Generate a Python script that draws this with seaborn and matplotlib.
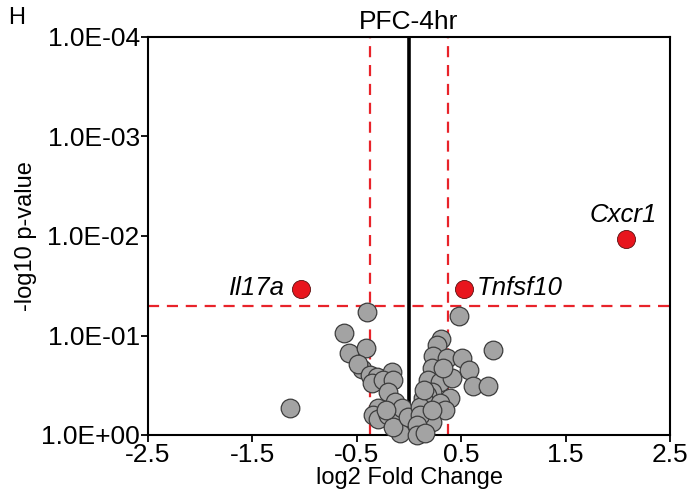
import numpy as np
import pandas as pd
import matplotlib
matplotlib.use("Agg")
import matplotlib.pyplot as plt
import seaborn as sns

# ---- data -------------------------------------------------------------
gray_fc = [-1.140, -0.622, -0.574, -0.399, -0.411, -0.453, -0.488, -0.373,
           -0.309, -0.357, -0.165, -0.245, -0.150, -0.198, -0.133, -0.293,
           -0.341, -0.293, -0.198, -0.117, -0.069, -0.021, -0.085, -0.150,
           -0.006, -0.220,
           0.480, 0.308, 0.267, 0.803, 0.234, 0.362, 0.506, 0.219, 0.570,
           0.186, 0.298, 0.410, 0.617, 0.761, 0.219, 0.171, 0.394, 0.138,
           0.298, 0.106, 0.346, 0.219, 0.106, 0.075, 0.075, 0.219, 0.145,
           0.327, 0.154]
gray_p = [0.539, 0.095, 0.151, 0.0585, 0.134, 0.217, 0.193, 0.249,
          0.260, 0.302, 0.234, 0.280, 0.280, 0.367, 0.463, 0.539,
          0.630, 0.690, 0.630, 0.620, 0.539, 0.793, 0.962, 0.826,
          0.655, 0.561,
          0.0632, 0.108, 0.125, 0.140, 0.161, 0.169, 0.169, 0.214, 0.222,
          0.280, 0.291, 0.269, 0.322, 0.322, 0.367, 0.396, 0.428, 0.428,
          0.480, 0.520, 0.561, 0.735, 0.630, 0.793, 1.0, 0.561, 0.353,
          0.212, 0.955]

sig_genes = ["Il17a", "Tnfsf10", "Cxcr1"]
sig_fc = [-1.037, 0.531, 2.08]
sig_p = [0.0343, 0.0343, 0.0108]

fc_cut = 0.375
p_cut = 0.05
y_ticks = [1e0, 1e-1, 1e-2, 1e-3, 1e-4]
y_ticklabels = ["1.0E+00", "1.0E-01", "1.0E-02", "1.0E-03", "1.0E-04"]
x_ticks = [-2.5, -1.5, -0.5, 0.5, 1.5, 2.5]
x_ticklabels = ["-2.5", "-1.5", "-0.5", "0.5", "1.5", "2.5"]

gray_df = pd.DataFrame({"fc": gray_fc, "p": gray_p})
sig_df = pd.DataFrame({"gene": sig_genes, "fc": sig_fc, "p": sig_p})

# ---- style ------------------------------------------------------------
sns.set_style("white")
plt.rcParams["font.family"] = ["Liberation Sans", "DejaVu Sans"]
plt.rcParams["text.color"] = "black"
plt.rcParams["axes.labelcolor"] = "black"
plt.rcParams["xtick.color"] = "black"
plt.rcParams["ytick.color"] = "black"

fig = plt.figure(figsize=(6.92, 4.97), dpi=100)
ax = fig.add_axes([148 / 692, 1 - 435 / 497, (670 - 148) / 692, (435 - 37) / 497])

ax.set_yscale("log")
ax.set_ylim(1.0, 1e-4)
ax.set_xlim(-2.5, 2.5)

red = "#e8232a"
ax.axvline(-fc_cut, color=red, lw=1.6, ls=(0, (5, 3.5)), zorder=1)
ax.axvline(fc_cut, color=red, lw=1.6, ls=(0, (5, 3.5)), zorder=1)
ax.axhline(p_cut, color=red, lw=1.6, ls=(0, (5, 3.5)), zorder=1)
ax.axvline(0, color="black", lw=2.6, zorder=1.5)

sns.scatterplot(data=gray_df, x="fc", y="p", ax=ax, s=180, color="#a3a3a3",
                edgecolor="#3c3c3c", linewidth=0.9, zorder=3, clip_on=False,
                legend=False)
sns.scatterplot(data=sig_df, x="fc", y="p", ax=ax, s=170, color="#e8151d",
                edgecolor="#5a1010", linewidth=0.6, zorder=4, clip_on=False,
                legend=False)

# gene labels
lab_fs = 18.5
for g, fx, py in zip(sig_genes, sig_fc, sig_p):
    if g == "Il17a":
        ax.annotate(g, (fx, py), xytext=(-11, 1), textcoords="offset points",
                    ha="right", va="center", fontsize=lab_fs, style="italic")
    elif g == "Tnfsf10":
        ax.annotate(g, (fx, py), xytext=(9, 1), textcoords="offset points",
                    ha="left", va="center", fontsize=lab_fs, style="italic")
    else:
        ax.annotate(g, (fx, py), xytext=(-2, 9), textcoords="offset points",
                    ha="center", va="bottom", fontsize=lab_fs, style="italic")

ax.set_yticks(y_ticks)
ax.set_yticklabels(y_ticklabels)
ax.yaxis.set_minor_locator(matplotlib.ticker.NullLocator())
ax.set_xticks(x_ticks)
ax.set_xticklabels(x_ticklabels)

ax.tick_params(axis="both", which="major", direction="out", length=5,
               width=1.3, labelsize=19, color="black", pad=1,
               bottom=True, left=True)
for s in ax.spines.values():
    s.set_color("black")
    s.set_linewidth(1.5)

ax.set_xlabel("log2 Fold Change", fontsize=17, labelpad=0)
ax.set_ylabel("-log10 p-value", fontsize=17, labelpad=3)
ax.set_title("PFC-4hr", fontsize=19, pad=6)
fig.text(8 / 692, 1 - 18 / 497, "H", fontsize=17, ha="left", va="center")

fig.savefig("out.png", dpi=100, facecolor="white")
